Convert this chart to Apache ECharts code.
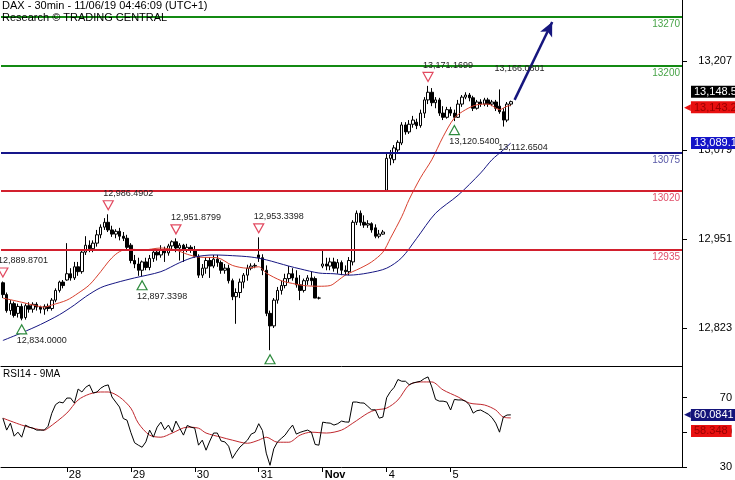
<!DOCTYPE html>
<html>
<head>
<meta charset="utf-8">
<title>DAX 30min</title>
<script src="https://cdn.jsdelivr.net/npm/echarts@6/dist/echarts.min.js"></script>
<style>
  html, body { margin: 0; padding: 0; background: #fff; }
  #chart { width: 735px; height: 480px; }
</style>
</head>
<body>
<div id="chart"></div>
<script>
// sessions on the x axis, 17 half-hour bars each, then empty room on the right
const dayNames = ['25', '28', '29', '30', '31', 'Nov', '4', '5'];
const barsPerDay = 17;
const emptySlots = 45;

// candles: [open, close, low, high]
const candles = [
  // 25
  [12888, 12871, 12866, 12889.87], [12871, 12848, 12845, 12874], [12848, 12858, 12842, 12863],
  [12858, 12841, 12838, 12861], [12844, 12854, 12838, 12858], [12854, 12837, 12834, 12858],
  [12838, 12855, 12835, 12858], [12855, 12850, 12845, 12860], [12850, 12857, 12845, 12860],
  [12857, 12853, 12848, 12860], [12853, 12850, 12844, 12855], [12850, 12854, 12842, 12857],
  [12854, 12851, 12847, 12858], [12851, 12863, 12848, 12866], [12863, 12877, 12860, 12880],
  [12877, 12889, 12874, 12891], [12889, 12884, 12880, 12892],
  // 28
  [12892, 12901, 12891, 12945], [12901, 12895, 12891, 12909], [12895, 12911, 12892, 12918],
  [12911, 12904, 12898, 12918], [12904, 12932, 12901, 12935], [12932, 12942, 12928, 12955],
  [12942, 12937, 12932, 12949], [12937, 12945, 12932, 12949], [12945, 12957, 12940, 12964],
  [12957, 12968, 12952, 12972], [12968, 12975, 12964, 12981], [12975, 12964, 12961, 12986.49],
  [12964, 12958, 12954, 12970], [12958, 12962, 12952, 12965], [12962, 12955, 12949, 12967],
  [12955, 12952, 12948, 12961], [12952, 12939, 12935, 12957],
  // 29
  [12942, 12920, 12916, 12945], [12920, 12915, 12909, 12928], [12915, 12906, 12898, 12924],
  [12906, 12918, 12897.34, 12920], [12918, 12910, 12906, 12924], [12910, 12923, 12906, 12928],
  [12923, 12932, 12918, 12935], [12932, 12928, 12920, 12937], [12928, 12935, 12924, 12942],
  [12935, 12931, 12918, 12940], [12931, 12941, 12927, 12944], [12941, 12947, 12935, 12949],
  [12947, 12938, 12932, 12951.88], [12938, 12942, 12920, 12945], [12942, 12935, 12918, 12944],
  [12935, 12939, 12932, 12944], [12939, 12935, 12931, 12942],
  // 30
  [12935, 12926, 12924, 12941], [12926, 12899, 12895, 12929], [12899, 12909, 12895, 12915],
  [12909, 12920, 12901, 12925], [12920, 12912, 12895, 12925], [12912, 12922, 12909, 12928],
  [12922, 12917, 12911, 12928], [12917, 12906, 12901, 12920], [12906, 12909, 12901, 12915],
  [12909, 12891, 12887, 12914], [12891, 12868, 12863, 12894], [12868, 12874, 12829, 12880],
  [12874, 12889, 12866, 12894], [12889, 12899, 12880, 12902], [12899, 12909, 12891, 12914],
  [12909, 12912, 12906, 12916], [12912, 12913, 12909, 12916],
  // 31
  [12928, 12924, 12918, 12953.34], [12924, 12906, 12899, 12929], [12906, 12844, 12840, 12913],
  [12844, 12826, 12791, 12848], [12826, 12863, 12823, 12866], [12863, 12877, 12858, 12882],
  [12877, 12884, 12871, 12891], [12884, 12894, 12880, 12901], [12894, 12901, 12889, 12912],
  [12901, 12895, 12891, 12909], [12895, 12885, 12881, 12906], [12885, 12877, 12863, 12899],
  [12877, 12891, 12874, 12894], [12891, 12895, 12885, 12899], [12895, 12891, 12884, 12904],
  [12894, 12866, 12866, 12897], [12866, 12866, 12864, 12868],
  // Nov 1
  [12912, 12915, 12909, 12935], [12915, 12912, 12906, 12924], [12912, 12918, 12906, 12924],
  [12918, 12909, 12904, 12924], [12909, 12917, 12901, 12922], [12917, 12906, 12899, 12920],
  [12906, 12904, 12899, 12913], [12904, 12920, 12899, 12925], [12918, 12975, 12913, 12978],
  [12975, 12988, 12971, 12992], [12988, 12975, 12970, 12992], [12975, 12971, 12967, 12985],
  [12971, 12973, 12967, 12978], [12973, 12964, 12960, 12975], [12967, 12955, 12952, 12972],
  [12955, 12958, 12952, 12964], [12958, 12961, 12957, 12964],
  // 4
  [13021, 13067, 13020, 13076], [13067, 13072, 13057, 13079], [13065, 13082, 13060, 13086],
  [13079, 13090, 13075, 13093], [13089, 13115, 13086, 13119], [13115, 13105, 13101, 13119],
  [13105, 13116, 13102, 13122], [13116, 13122, 13111, 13128], [13119, 13114, 13109, 13124],
  [13114, 13132, 13111, 13137], [13132, 13151, 13125, 13155], [13151, 13162, 13145, 13171.17],
  [13162, 13147, 13142, 13168], [13147, 13151, 13139, 13155], [13151, 13132, 13128, 13154],
  [13132, 13126, 13122, 13142], [13126, 13137, 13124, 13141],
  // 5
  [13137, 13132, 13128, 13141], [13132, 13126, 13120.54, 13137], [13126, 13145, 13125, 13151],
  [13145, 13155, 13141, 13158], [13155, 13158, 13152, 13162], [13158, 13154, 13149, 13161],
  [13154, 13139, 13135, 13157], [13139, 13148, 13137, 13151], [13148, 13145, 13141, 13152],
  [13145, 13151, 13142, 13154], [13151, 13145, 13141, 13154], [13145, 13148, 13142, 13151],
  [13148, 13139, 13135, 13151], [13142, 13134, 13131, 13166.08], [13134, 13122, 13112.65, 13139],
  [13122, 13145, 13119, 13148], [13145, 13148.5, 13142, 13150]
];

// moving averages: [bar index, price]
const maRed = [
  [0, 12866], [5, 12860], [8, 12856], [11, 12853], [13, 12856], [17, 12863], [20, 12873],
  [23, 12885], [26, 12904], [28, 12918], [30, 12929], [32, 12935], [35, 12936], [37, 12935],
  [42, 12938], [46, 12935], [49, 12929], [52, 12925], [57, 12924], [61, 12913], [65, 12909],
  [68, 12911], [70, 12902], [74, 12891], [77, 12887], [80, 12884], [84, 12883], [87, 12884],
  [89, 12891], [91, 12899], [95, 12909], [98, 12918], [101, 12932], [103, 12952], [106, 12983],
  [108, 13008], [111, 13039], [114, 13065], [117, 13098], [120, 13125], [123, 13137],
  [126, 13144], [129, 13145], [132, 13137], [134, 13142], [135, 13143]
];
const maBlue = [
  [0, 12805], [5, 12816], [10, 12828], [15, 12842], [19, 12856], [22, 12868], [26, 12881],
  [30, 12888], [35, 12895], [42, 12904], [47, 12917], [51, 12925], [56, 12928], [61, 12927],
  [66, 12925], [70, 12921], [76, 12912], [79, 12908], [84, 12902], [88, 12901], [92, 12899],
  [97, 12902], [102, 12909], [106, 12924], [110, 12952], [115, 12988], [121, 13014],
  [127, 13046], [130, 13065], [133, 13079], [135, 13089]
];

// RSI(14), one value per bar
const rsi = [
  58.2, 51.3, 55.3, 47.8, 50.1, 47.2, 54.2, 53, 52.4, 51.3,
  51.3, 51.3, 53.5, 61, 66, 67.5, 67, 69.8, 69.8, 66.9,
  75, 73.3, 76, 77.4, 72.7, 73.3, 75.5, 76.8, 77.4, 70.4,
  67.5, 64.6, 58, 57, 50, 44, 42.6, 41.4, 44.5, 51.3,
  47.2, 53, 55.9, 51.5, 54.2, 50.1, 56.5, 52.4, 48.4, 54,
  53, 52.4, 42.6, 45.5, 39.7, 45, 49.6, 49.6, 45, 44.5,
  42, 35, 38.5, 41.5, 43.5, 45.5, 49, 50, 55, 51,
  38, 31, 40.5, 44.5, 46.5, 48.4, 51.5, 54.2, 49, 50,
  50.7, 51.3, 50.1, 43, 42.6, 55.9, 55.5, 55.3, 54.2, 55,
  56.5, 56, 55.9, 67.5, 67.5, 67, 66.9, 65, 63, 63,
  58.2, 58.8, 70, 73.5, 76, 80.5, 79.5, 79.5, 77.5, 78.5,
  79, 79.5, 81, 82, 76.2, 69, 68, 68, 67.5, 62.9,
  69, 68.7, 68.7, 68, 65.8, 61.1, 62.5, 62.9, 61.7, 60.5,
  58.5, 55.3, 50.1, 58.8, 60.0, 60.0841
];
// 9-period MA of RSI: [bar index, value]
const rsiMa = [
  [0, 58.2], [5, 54.2], [8, 52.4], [11, 51.3], [12, 52.4], [17, 61.1], [20, 68.7], [23, 72.1],
  [26, 73.3], [28, 73.3], [31, 70.4], [34, 64.0], [36, 55.3], [39, 48.4], [42, 47.2], [45, 49.6],
  [49, 53.0], [52, 52.4], [54, 49.6], [58, 47.2], [61, 45.5], [65, 43.7], [68, 45.5], [70, 47.2],
  [73, 44.3], [76, 44.3], [79, 48.4], [82, 50.1], [86, 49.6], [90, 51.3], [93, 55.3], [97, 61.1],
  [99, 62.9], [102, 64.0], [105, 68.7], [108, 77.4], [111, 79.1], [114, 79.1], [117, 74.5],
  [121, 70.4], [124, 66.9], [128, 65.8], [131, 62.9], [133, 58.8], [135, 58.348]
];

// support / resistance levels
const levelsGreen = [13270, 13200];
const levelsBlue = [13075];
const levelsRed = [13020, 12935];

// swing markers: [bar index, price]
const swingHighs = [[0, 12889.8701], [28, 12986.4902], [46, 12951.8799], [68, 12953.3398], [113, 13171.1699]];
const swingLows = [[5, 12834.0], [37, 12897.3398], [120, 13120.54]];
const swingLowsUnlabelled = [[71, 12791]];
const pendingHighs = [[132, 13166.0801]];
const pendingLows = [[133, 13112.6504]];

// projected path arrow: [bar index, price]
const forecastArrow = [[136, 13151], [146, 13263]];

const priceTicks = [12823, 12951, 13079, 13207];
const rsiTicks = [30, 50, 70];

const lastClose = 13148.5;
const lastRedMa = 13143.2;
const lastBlueMa = 13089.1;
const lastRsi = 60.0841;
const lastRsiMa = 58.348;

const fontFamily = 'Liberation Sans, Arial, sans-serif';

const categories = [];
dayNames.forEach(d => {
  for (let k = 0; k < barsPerDay; k++) categories.push(d + '#' + k);
});
for (let k = 0; k < emptySlots; k++) categories.push('_#' + k);
const nBars = candles.length;
const isDayStart = i => i > 0 && i < nBars && i % barsPerDay === 0;

function fmt(v, dec) {
  const parts = v.toFixed(dec).split('.');
  const head = parts[0].replace(/\B(?=(\d{3})+(?!\d))/g, ',');
  return parts.length > 1 ? head + '.' + parts[1] : head;
}

function levelLine(v, lineColor, textColor) {
  return {
    yAxis: v,
    lineStyle: { color: lineColor, width: 2, type: 'solid' },
    label: {
      show: true, position: 'insideEndBottom', formatter: String(v),
      color: textColor, fontSize: 10, fontFamily: fontFamily, distance: 2
    }
  };
}

// value tag on the right axis; withArrow puts a small left-pointing tip before it
function valueBox(v, text, bg, fg, dy, withArrow) {
  return {
    yAxis: v,
    lineStyle: { color: 'rgba(0,0,0,0)', width: 0 },
    label: {
      show: true, position: 'end', distance: withArrow ? 2 : 9,
      formatter: withArrow ? '{a|◀}{t|' + text + '}' : '{t|' + text + '}',
      offset: [0, dy],
      rich: {
        a: { color: bg, fontSize: 9, fontFamily: 'DejaVu Sans', lineHeight: 12 },
        t: {
          color: fg, backgroundColor: bg, padding: [1, 4, 0, 3],
          fontSize: 11, lineHeight: 11, fontFamily: fontFamily
        }
      }
    }
  };
}

const downTri = 'path://M0,0L10,0L5,9Z';
const upTri = 'path://M5,0L10,9L0,9Z';

function swingPoint(p, isHigh, showLabel, visible) {
  const col = isHigh ? '#e24a60' : '#2e8b3e';
  return {
    coord: p,
    symbol: isHigh ? downTri : upTri,
    symbolSize: [10, 9],
    symbolOffset: [0, isHigh ? -9 : 9],
    itemStyle: visible
      ? { color: '#fff', borderColor: col, borderWidth: 1.2 }
      : { color: 'rgba(0,0,0,0)', borderColor: 'rgba(0,0,0,0)' },
    label: {
      show: showLabel, position: isHigh ? 'top' : 'bottom', align: 'left',
      offset: [-5, 0], distance: 2, formatter: fmt(p[1], 4),
      color: '#222', fontSize: 9, fontFamily: fontFamily
    }
  };
}

const markPoints = []
  .concat(swingHighs.map(p => swingPoint(p, true, true, true)))
  .concat(swingLows.map(p => swingPoint(p, false, true, true)))
  .concat(swingLowsUnlabelled.map(p => swingPoint(p, false, false, true)))
  .concat(pendingHighs.map(p => swingPoint(p, true, true, false)))
  .concat(pendingLows.map(p => swingPoint(p, false, true, false)));

const priceLines = []
  .concat(levelsGreen.map(v => levelLine(v, '#138a13', '#48a448')))
  .concat(levelsBlue.map(v => levelLine(v, '#16168a', '#5a5aa8')))
  .concat(levelsRed.map(v => levelLine(v, '#d2202e', '#e0506a')))
  .concat([
    valueBox(lastClose, fmt(lastClose, 1), '#000', '#fff', -10, false),
    valueBox(lastRedMa, fmt(lastRedMa, 1), '#e81010', '#9a0000', 2, true),
    valueBox(lastBlueMa, fmt(lastBlueMa, 1), '#1414c8', '#fff', 0, false)
  ]);

const chart = echarts.init(document.getElementById('chart'), null, { renderer: 'canvas' });

chart.setOption({
  animation: false,
  backgroundColor: '#fff',
  title: [
    {
      text: 'DAX - 30min - 11/06/19 04:46:09 (UTC+1)',
      subtext: 'Research © TRADING CENTRAL',
      left: 2, top: 0, padding: 0, itemGap: 1,
      textStyle: { fontSize: 11, fontWeight: 'normal', color: '#000', fontFamily: fontFamily },
      subtextStyle: { fontSize: 11, color: '#000', fontFamily: fontFamily, backgroundColor: '#fff' }
    },
    {
      text: 'RSI14 - 9MA', left: 3, top: 369, padding: 0,
      textStyle: { fontSize: 10, fontWeight: 'normal', color: '#000', fontFamily: fontFamily }
    }
  ],
  grid: [
    { left: 1, right: 52, top: 0, height: 366 },
    { left: 1, right: 52, top: 366, height: 101 }
  ],
  xAxis: [
    {
      type: 'category', gridIndex: 0, data: categories, boundaryGap: true,
      axisLine: { show: true, lineStyle: { color: '#000', width: 1 } },
      axisTick: { show: false }, axisLabel: { show: false }, splitLine: { show: false }
    },
    {
      type: 'category', gridIndex: 1, data: categories, boundaryGap: true,
      axisLine: { show: true, lineStyle: { color: '#000', width: 1 } },
      axisTick: {
        show: true, alignWithLabel: true, length: 5,
        interval: i => isDayStart(i), lineStyle: { color: '#000' }
      },
      axisLabel: {
        show: true, interval: i => isDayStart(i), align: 'left', margin: 2,
        padding: [0, 0, 0, 2], color: '#000', fontSize: 11, fontFamily: fontFamily,
        formatter: v => {
          const d = v.split('#')[0];
          return d === 'Nov' ? '{b|Nov}' : d;
        },
        rich: { b: { fontWeight: 'bold', fontSize: 11, fontFamily: fontFamily, color: '#000' } }
      },
      splitLine: { show: false }
    }
  ],
  yAxis: [
    {
      type: 'value', gridIndex: 0, position: 'right', min: 12768.3, max: 13294.7,
      axisLine: { show: true, lineStyle: { color: '#000', width: 1 } },
      axisTick: { show: true, length: 5, customValues: priceTicks, lineStyle: { color: '#000' } },
      axisLabel: {
        customValues: priceTicks, formatter: v => fmt(v, 0), align: 'right', margin: 50,
        color: '#000', fontSize: 11, fontFamily: fontFamily
      },
      splitLine: { show: false }
    },
    {
      type: 'value', gridIndex: 1, position: 'right', min: 30, max: 88.3,
      axisLine: { show: true, lineStyle: { color: '#000', width: 1 } },
      axisTick: { show: true, length: 5, customValues: rsiTicks, lineStyle: { color: '#000' } },
      axisLabel: {
        customValues: rsiTicks, align: 'right', margin: 50,
        color: '#000', fontSize: 11, fontFamily: fontFamily
      },
      splitLine: { show: false }
    }
  ],
  series: [
    {
      name: 'DAX', type: 'candlestick', xAxisIndex: 0, yAxisIndex: 0,
      data: candles, barWidth: 3,
      itemStyle: { color: '#fff', color0: '#000', borderColor: '#000', borderColor0: '#000', borderWidth: 1 },
      markLine: { symbol: 'none', silent: true, animation: false, data: priceLines },
      markPoint: { silent: true, animation: false, data: markPoints },
      z: 3
    },
    {
      name: 'MA fast', type: 'line', xAxisIndex: 0, yAxisIndex: 0, data: maRed,
      showSymbol: false, smooth: 0.3, lineStyle: { color: '#d8402e', width: 1 }, z: 4
    },
    {
      name: 'MA slow', type: 'line', xAxisIndex: 0, yAxisIndex: 0, data: maBlue,
      showSymbol: false, smooth: 0.3, lineStyle: { color: '#161683', width: 1 }, z: 4,
      markLine: {
        silent: true, animation: false, symbol: ['none', 'arrow'], symbolSize: [10, 14],
        lineStyle: { color: '#16167e', width: 2.5, type: 'solid' },
        label: { show: false },
        data: [[{ coord: forecastArrow[0] }, { coord: forecastArrow[1] }]]
      }
    },
    {
      name: 'RSI', type: 'line', xAxisIndex: 1, yAxisIndex: 1, data: rsi,
      showSymbol: false, lineStyle: { color: '#000', width: 1 }, z: 4,
      markLine: {
        symbol: 'none', silent: true, animation: false,
        data: [
          valueBox(lastRsi, fmt(lastRsi, 4), '#14147a', '#fff', 0, true),
          valueBox(lastRsiMa, fmt(lastRsiMa, 3), '#e81010', '#9a0000', 13, false)
        ]
      }
    },
    {
      name: 'RSI MA', type: 'line', xAxisIndex: 1, yAxisIndex: 1, data: rsiMa,
      showSymbol: false, smooth: 0.3, lineStyle: { color: '#c0282e', width: 1 }, z: 3
    }
  ]
});
</script>
</body>
</html>
